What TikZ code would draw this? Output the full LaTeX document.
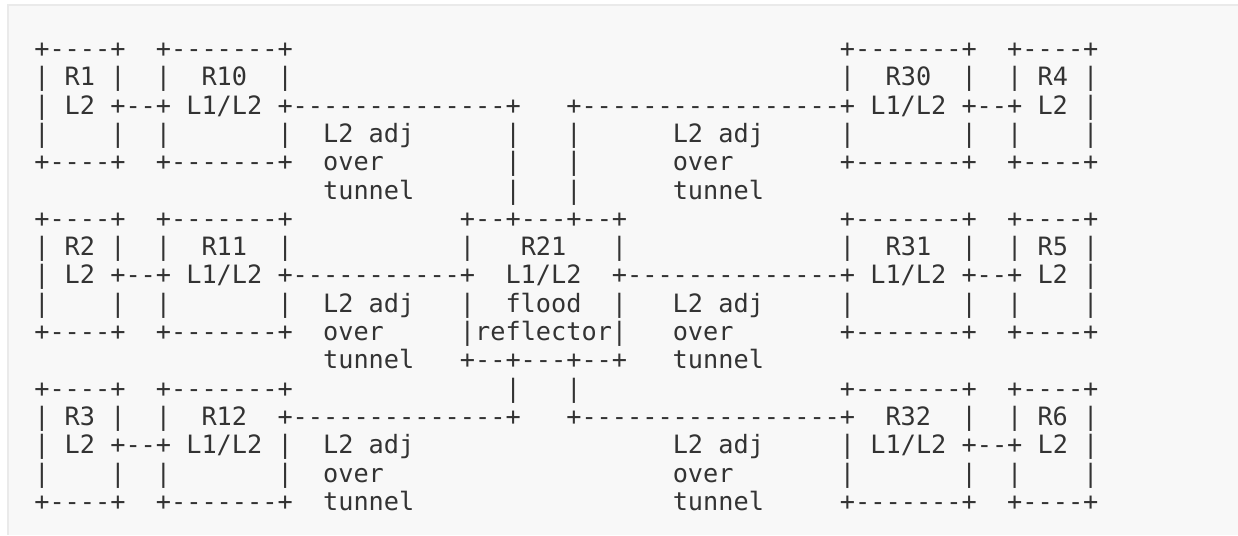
\documentclass[tikz,border=0pt]{standalone}
\usepackage{fontspec}
\setmonofont{DejaVu Sans Mono}
\definecolor{inkgray}{HTML}{333333}
\definecolor{pagegray}{HTML}{F8F8F8}
\definecolor{framegray}{HTML}{EAEAEA}
% one macro per text line of the figure
\begingroup\obeyspaces
\gdef\rowA{+----+  +-------+                                    +-------+  +----+}
\gdef\rowB{| R1 |  |  R10  |                                    |  R30  |  | R4 |}
\gdef\rowC{| L2 +--+ L1/L2 +--------------+   +-----------------+ L1/L2 +--+ L2 |}
\gdef\rowD{|    |  |       |  L2 adj      |   |      L2 adj     |       |  |    |}
\gdef\rowE{+----+  +-------+  over        |   |      over       +-------+  +----+}
\gdef\rowF{\relax                   tunnel      |   |      tunnel}
\gdef\rowG{+----+  +-------+           +--+---+--+              +-------+  +----+}
\gdef\rowH{| R2 |  |  R11  |           |   R21   |              |  R31  |  | R5 |}
\gdef\rowI{| L2 +--+ L1/L2 +-----------+  L1/L2  +--------------+ L1/L2 +--+ L2 |}
\gdef\rowJ{|    |  |       |  L2 adj   |  flood  |   L2 adj     |       |  |    |}
\gdef\rowK{+----+  +-------+  over     |reflector|   over       +-------+  +----+}
\gdef\rowL{\relax                   tunnel   +--+---+--+   tunnel}
\gdef\rowM{+----+  +-------+              |   |                 +-------+  +----+}
\gdef\rowN{| R3 |  |  R12  +--------------+   +-----------------+  R32  |  | R6 |}
\gdef\rowO{| L2 +--+ L1/L2 |  L2 adj                 L2 adj     | L1/L2 +--+ L2 |}
\gdef\rowP{|    |  |       |  over                   over       |       |  |    |}
\gdef\rowQ{+----+  +-------+  tunnel                 tunnel     +-------+  +----+}
\endgroup
\begin{document}
\begin{tikzpicture}[x=1pt, y=-1pt, asciiline/.style={anchor=base west, inner sep=0pt, text=inkgray, font=\ttfamily\fontsize{25.25}{28.3}\selectfont}]
	\def\xo{34.1} \def\yo{29.2} \def\dy{28.3}
	\useasboundingbox (0,0) rectangle (1238,535);
	\fill[white] (0,0) rectangle (1238,535);
	\fill[pagegray] (7.5,5.5) rectangle (1238,535);
	\draw[framegray, line width=2pt] (7.5,535) -- (7.5,5.5) -- (1238,5.5);
	\foreach \r/\txt in {1/\rowA, 2/\rowB, 3/\rowC, 4/\rowD, 5/\rowE, 6/\rowF, 7/\rowG, 8/\rowH, 9/\rowI, 10/\rowJ, 11/\rowK, 12/\rowL, 13/\rowM, 14/\rowN, 15/\rowO, 16/\rowP, 17/\rowQ}
		\node[asciiline] (l\r) at (\xo, \yo+\dy*\r) {\txt};
\end{tikzpicture}
\end{document}
